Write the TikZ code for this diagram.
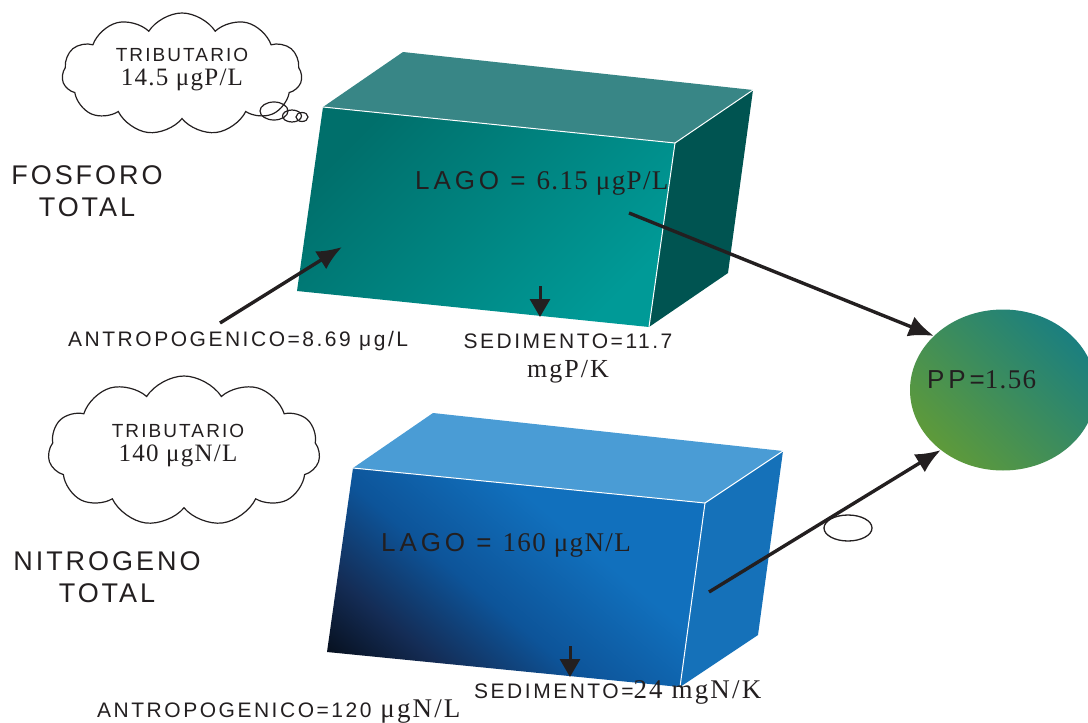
\documentclass[tikz,border=0pt]{standalone}
\usepackage{fontspec}
\setmainfont{Liberation Serif}
\setsansfont{Liberation Sans}
\newfontfamily\lsans[LetterSpace=11]{Liberation Sans}
\newfontfamily\lsansm[LetterSpace=12]{Liberation Sans}
\newfontfamily\lsansw[LetterSpace=15]{Liberation Sans}
\newfontfamily\lserif[LetterSpace=5]{Liberation Serif}
\newfontfamily\lserifw[LetterSpace=8]{Liberation Serif}
\usetikzlibrary{arrows.meta,shapes.geometric,shapes.symbols}
\definecolor{ink}{HTML}{231F20}
\definecolor{ptop}{HTML}{388686}
\definecolor{pside}{HTML}{005451}
\definecolor{pfrontA}{HTML}{006F6B}
\definecolor{pfrontB}{HTML}{009A97}
\definecolor{ntop}{HTML}{4A9CD5}
\definecolor{nside}{HTML}{1571B9}
\definecolor{nfrontA}{HTML}{03080F}
\definecolor{nfrontD}{HTML}{142C55}
\definecolor{nfrontM}{HTML}{0D5499}
\definecolor{nfrontB}{HTML}{1170BD}
\definecolor{ppgreen}{HTML}{5E9A3A}
\definecolor{ppteal}{HTML}{1B7F7F}
\pgfdeclareverticalshading{nfrontshade}{100bp}{color(0bp)=(nfrontB); color(38bp)=(nfrontB); color(56bp)=(nfrontM); color(70bp)=(nfrontD); color(84bp)=(nfrontA); color(100bp)=(nfrontA)}
\begin{document}
\begin{tikzpicture}[x=1pt,y=-1pt,
  every node/.style={inner sep=0pt,text=ink},
  bigtxt/.style={font=\lsans\fontsize{27}{32}\selectfont,align=center},
  lagotxt/.style={font=\lsansw\fontsize{26}{30}\selectfont,anchor=west},
  smalltxt/.style={font=\lsansm\fontsize{21}{29}\selectfont},
  cloudtxt/.style={font=\lsans\fontsize{19}{26}\selectfont,align=center},
  cloudshape/.style={cloud,draw=ink,line width=1.2pt,cloud puffs=11,cloud puff arc=115,aspect=1.9},
  arr/.style={draw=ink,line width=3.4pt,-{Latex[length=25pt,width=21pt]}},
  sedarr/.style={draw=ink,line width=3pt,-{Triangle[length=18pt,width=20pt]}},
  edge/.style={draw=white,line width=1pt}
]
\useasboundingbox (0,0) rectangle (1088,723);

% ---------- upper box (fosforo)
\coordinate (pa) at (323,107);
\coordinate (pb) at (675,143);
\coordinate (pc) at (649,327);
\coordinate (pd) at (297,291);
\coordinate (pe) at (403,52);
\coordinate (pf) at (753,90);
\coordinate (pg) at (728,273);
\fill[ptop] (pa) -- (pe) -- (pf) -- (pb) -- cycle;
\fill[pside] (pb) -- (pf) -- (pg) -- (pc) -- cycle;
\shade[top color=pfrontA,bottom color=pfrontB,shading angle=45] (pa) -- (pb) -- (pc) -- (pd) -- cycle;
\draw[edge] (pa) -- (pb) -- (pf);
\draw[edge] (pb) -- (pc);

% ---------- lower box (nitrogeno)
\coordinate (na) at (353,468);
\coordinate (nb) at (705,503);
\coordinate (nc) at (680,687);
\coordinate (nd) at (327,652);
\coordinate (ne) at (433,413);
\coordinate (nf) at (783,451);
\coordinate (ng) at (758,635);
\fill[ntop] (na) -- (ne) -- (nf) -- (nb) -- cycle;
\fill[nside] (nb) -- (nf) -- (ng) -- (nc) -- cycle;
\shade[shading=nfrontshade,shading angle=140] (na) -- (nb) -- (nc) -- (nd) -- cycle;
\draw[edge] (na) -- (nb) -- (nf);
\draw[edge] (nb) -- (nc);

% ---------- PP ellipse
\node[ellipse,minimum width=186pt,minimum height=161pt,
  top color=ppgreen,bottom color=ppteal,shading angle=135] (PP) at (1003,390) {};
\node[anchor=west,font=\lsansw\fontsize{26}{30}\selectfont] (ppl) at (927,380) {PP={\lserif\fontsize{27}{30}\selectfont 1.56}};

% ---------- clouds
\node[cloudshape,minimum width=240pt,minimum height=122pt] (c1) at (182,74) {};
\node[cloudtxt] (c1t) at (182,70) {TRIBUTARIO\\[-2pt]{\lserif\fontsize{25}{28}\selectfont 14.5 μgP/L}};
\node[ellipse,draw=ink,line width=1.2pt,minimum width=28pt,minimum height=18pt] (b1) at (274,111) {};
\node[ellipse,draw=ink,line width=1.2pt,minimum width=19pt,minimum height=12pt] (b2) at (292,116) {};
\node[ellipse,draw=ink,line width=1.2pt,minimum width=12pt,minimum height=9pt] (b3) at (302,117) {};

\node[cloudshape,minimum width=272pt,minimum height=150pt] (c2) at (184,451) {};
\node[cloudtxt] (c2t) at (178,446) {TRIBUTARIO\\[-2pt]{\lserif\fontsize{25}{28}\selectfont 140 μgN/L}};

% ---------- labels
\node[bigtxt] (fos) at (87,191) {FOSFORO\\TOTAL};
\node[bigtxt] (nit) at (107,577) {NITROGENO\\TOTAL};
\node[lagotxt] (lago1) at (415,183) {LAGO = {\lserif\fontsize{27}{30}\selectfont 6.15 μgP/L}};
\node[lagotxt] (lago2) at (381,545) {LAGO = {\lserif\fontsize{27}{30}\selectfont 160 μgN/L}};
\node[smalltxt,anchor=west] (antro1) at (68,341) {ANTROPOGENICO=8.69 μg/L};
\node[smalltxt,align=center] (sed1) at (568,358) {SEDIMENTO=11.7\\{\lserifw\fontsize{26}{26}\selectfont mgP/K}};
\node[smalltxt,anchor=west] (sed2) at (474,692) {SEDIMENTO={\lserifw\fontsize{27}{28}\selectfont 24 mgN/K}};
\node[smalltxt,anchor=west] (antro2) at (97,712) {ANTROPOGENICO=120{\lserifw\fontsize{27}{28}\selectfont{} μgN/L}};

% ---------- connectors
\coordinate (a1s) at (220,323);
\coordinate (a1e) at (342,247);
\draw[arr] (a1s) -- (a1e);
\coordinate (s1s) at (540,286);
\coordinate (s1e) at (540,317);
\draw[sedarr] (s1s) -- (s1e);
\coordinate (s2s) at (570,646);
\coordinate (s2e) at (570,677);
\draw[sedarr] (s2s) -- (s2e);
\coordinate (a2s) at (629,213);
\draw[arr] (a2s) -- (PP.142);
\coordinate (a3s) at (709,592);
\draw[arr] (a3s) -- (PP.224);
\node[ellipse,draw=ink,line width=1.3pt,minimum width=48pt,minimum height=26pt] (loop) at (848,528) {};
\end{tikzpicture}
\end{document}
